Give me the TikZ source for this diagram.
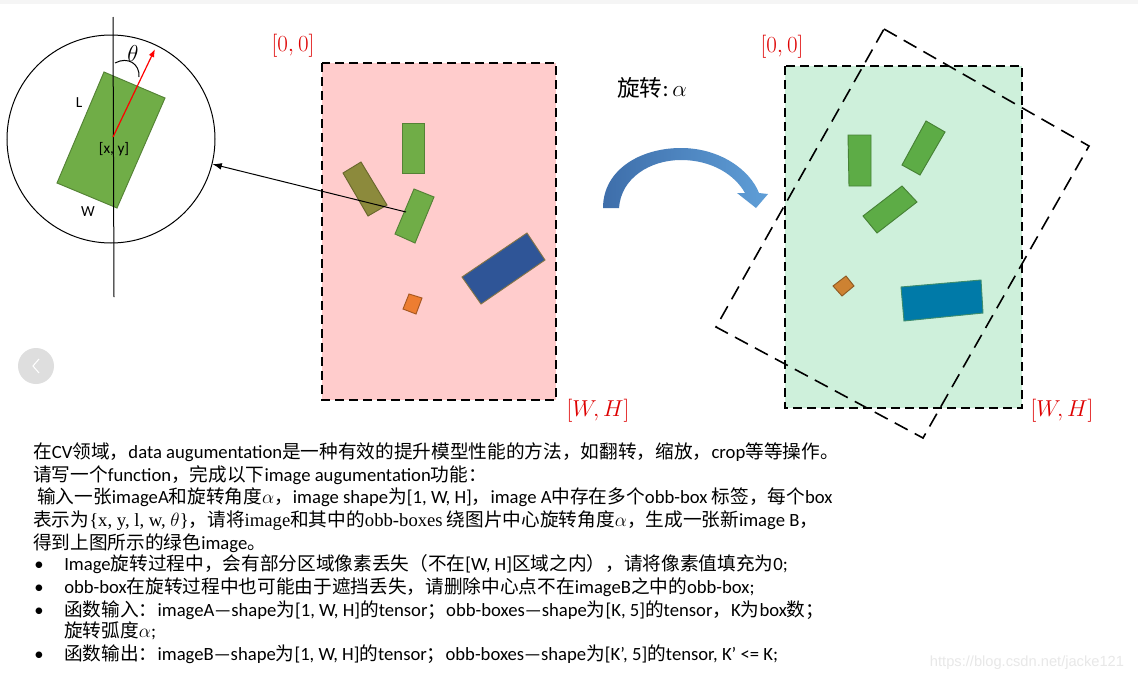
\documentclass[tikz,border=0pt]{standalone}
\usepackage{fontspec}
\setmainfont{Carlito}
\newfontfamily\cjk{Noto Sans CJK SC}
\newfontfamily\serif{Liberation Serif}
\newfontfamily\wmfont{Liberation Sans}
\usetikzlibrary{arrows.meta}
\newcommand\zh[1]{{\cjk #1}}
\definecolor{pinkbg}{RGB}{255,204,204}
\definecolor{greenbg}{RGB}{206,240,219}
\definecolor{gA}{RGB}{112,173,71}
\definecolor{gB}{RGB}{93,172,70}
\definecolor{boxolive}{RGB}{140,138,60}
\definecolor{boxblueL}{RGB}{47,85,151}
\definecolor{boxorange}{RGB}{237,125,49}
\definecolor{boxorangeR}{RGB}{205,130,50}
\definecolor{boxblueR}{RGB}{0,122,168}
\definecolor{redlab}{RGB}{222,0,0}
\definecolor{arrowdark}{RGB}{62,110,170}
\definecolor{arrowlight}{RGB}{95,158,215}
\definecolor{btngray}{RGB}{222,222,222}
\definecolor{wmgray}{RGB}{232,232,232}
\tikzset{
  imgframe/.style={line width=1.5pt, dash pattern=on 6.75pt off 3.75pt},
  rotframe/.style={line width=1.2pt, dash pattern=on 11pt off 6pt},
  obb/.style={line width=0.7pt},
  redlabel/.style={text=redlab, inner sep=0pt, font=\fontsize{17}{20}\selectfont},
  txt/.style={anchor=base west, inner sep=0pt, font=\fontsize{14}{16}\selectfont},
  bullet/.style={anchor=base, inner sep=0pt, font=\fontsize{14}{16}\selectfont},
  small/.style={inner sep=0pt, font=\fontsize{11.5}{13}\selectfont},
}
\begin{document}
\begin{tikzpicture}[x=0.75pt,y=-0.75pt]
\useasboundingbox (0,0) rectangle (1138,682);
\fill[white] (0,0) rectangle (1138,682);
\fill[gray!8] (0,0) rectangle (1138,4);

% ---------- magnifier ----------
\fill[gA, draw=gA!75!black, obb] (104,72) -- (165,98) -- (117,208) -- (57,183) -- cycle;
\node[circle, draw, line width=0.75pt, minimum size=156pt, inner sep=0pt] (mag) at (111,139) {};
\coordinate (vtop) at (113,17);
\coordinate (vbot) at (114,297);
\draw[line width=0.75pt] (vtop) -- (vbot);
\coordinate (ctr) at (113,137);
\coordinate (dir) at (155,49);
\draw[red, line width=0.9pt, -{Latex[length=6pt,width=4.5pt]}] (ctr) -- (dir);
\draw[line width=0.75pt] (115,63) .. controls (128,56) and (140,64) .. (139,77);
\node[inner sep=0pt, font=\fontsize{19}{21}\selectfont] (th) at (133,53) {$\theta$};
\node[small] (lL) at (79,103) {L};
\node[small] (lW) at (88,212) {W};
\node[small] (lxy) at (114,149) {[x, y]};

% ---------- left image ----------
\fill[pinkbg] (322,63) rectangle (556,400);
\fill[gA, draw=gA!75!black, obb] (402,123) rectangle (424,173);
\fill[boxolive, draw=boxolive!75!black, obb] (343,173) -- (361,162) -- (387,205) -- (368,216) -- cycle;
\fill[gA, draw=gA!75!black, obb] (414,189) -- (434,197) -- (415,243) -- (395,234) -- cycle;
\fill[boxblueL, draw={rgb,255:red,130;green,115;blue,70}, obb] (462,277) -- (527,233) -- (545,260) -- (481,304) -- cycle;
\fill[boxorange, draw=boxorange!70!black, obb] (409,294) -- (422,298) -- (416,314) -- (403,309) -- cycle;
\draw[imgframe] (322,63) rectangle (556,400);
\node[redlabel] (l00) at (293,46) {$[0,0]$};
\node[redlabel] (lWH) at (598,411) {$[W,H]$};

\coordinate (src) at (406,212);
\draw[line width=0.75pt, -{Latex[length=7pt,width=5pt]}] (src) -- (mag);

% ---------- rotation arrow ----------
\node[inner sep=0pt, anchor=west, font=\fontsize{17}{20}\selectfont] (rot) at (617,88) {\zh{旋转}:\,$\alpha$};
\shade[left color=arrowdark, right color=arrowlight]
  (603,208) .. controls (603,170) and (640,148) .. (681,148)
  .. controls (720,148) and (750,170) .. (759,193)
  -- (768,194) -- (756,208) -- (737,193) -- (745,193)
  .. controls (735,175) and (712,160) .. (681,160)
  .. controls (650,160) and (621,178) .. (619,208) -- cycle;

% ---------- right image ----------
\fill[greenbg] (785,66) rectangle (1022,408);
\fill[gB, draw=gB!75!black, obb] (848,135) -- (871,135) -- (871,186) -- (849,186) -- cycle;
\fill[gB, draw=gB!75!black, obb] (902,165) -- (926,121) -- (945,132) -- (920,175) -- cycle;
\fill[gB, draw=gB!75!black, obb] (863,216) -- (902,186) -- (917,202) -- (877,233) -- cycle;
\fill[boxorangeR, draw=boxorangeR!70!black, obb] (833,286) -- (846,276) -- (854,286) -- (842,296) -- cycle;
\fill[boxblueR, draw={rgb,255:red,60;green,140;blue,110}, obb] (901,287) -- (981,280) -- (983,313) -- (904,321) -- cycle;
\draw[imgframe] (785,66) rectangle (1022,408);
\draw[rotframe] (884,29) -- (1089,146) -- (923,438) -- (716,327) -- cycle;
\node[redlabel] (r00) at (782,47) {$[0,0]$};
\node[redlabel] (rWH) at (1062,411) {$[W,H]$};

% ---------- nav button ----------
\node[circle, fill=btngray, minimum size=27pt, inner sep=0pt] (btn) at (36,366) {};
\draw[white, line width=0.8pt] (39,359) -- (33,366) -- (39,373);

% ---------- text ----------
\node[txt] (t1) at (33,458) {\zh{在}CV\zh{领域，}data augumentation\zh{是一种有效的提升模型性能的方法，如翻转，缩放，}crop\zh{等等操作。}};
\node[txt] (t2) at (33,481) {\zh{请写一个}function\zh{，完成以下}image augumentation\zh{功能：}};
\node[txt] (t3) at (37,503) {\zh{输入一张}imageA\zh{和旋转角度}$\alpha$\zh{，}image shape\zh{为}[1, W, H]\zh{，}image A\zh{中存在多个}obb-box \zh{标签，每个}box};
\node[txt] (t4) at (33,526) {\zh{表示为}{\serif\{x, y, l, w, $\theta$\}}\zh{，请将}{\serif image}\zh{和其中的}{\serif obb-boxes} \zh{绕图片中心旋转角度}$\alpha$\zh{，生成一张新}image B\zh{，}};
\node[txt] (t5) at (33,549) {\zh{得到上图所示的绿色}image\zh{。}};

\node[bullet] (b1) at (39,570) {•};
\node[bullet] (b2) at (39,593) {•};
\node[bullet] (b3) at (39,616) {•};
\node[bullet] (b4) at (39,660) {•};
\node[txt] (u1) at (64,570) {Image\zh{旋转过程中，会有部分区域像素丢失（不在}[W, H]\zh{区域之内），请将像素值填充为}0;};
\node[txt] (u2) at (64,593) {obb-box\zh{在旋转过程中也可能由于遮挡丢失，请删除中心点不在}imageB\zh{之中的}obb-box;};
\node[txt] (u3) at (64,616) {\zh{函数输入：}imageA—shape\zh{为}[1, W, H]\zh{的}tensor\zh{；}obb-boxes—shape\zh{为}[K, 5]\zh{的}tensor\zh{，}K\zh{为}box\zh{数；}};
\node[txt] (u3b) at (64,637) {\zh{旋转弧度}$\alpha$;};
\node[txt] (u4) at (64,660) {\zh{函数输出：}imageB—shape\zh{为}[1, W, H]\zh{的}tensor\zh{；}obb-boxes—shape\zh{为}[K’, 5]\zh{的}tensor, K’ <= K;};

\node[inner sep=0pt, text=wmgray, font=\wmfont\fontsize{11}{13}\selectfont] (wm) at (1027,663) {https://blog.csdn.net/jacke121};
\end{tikzpicture}
\end{document}
